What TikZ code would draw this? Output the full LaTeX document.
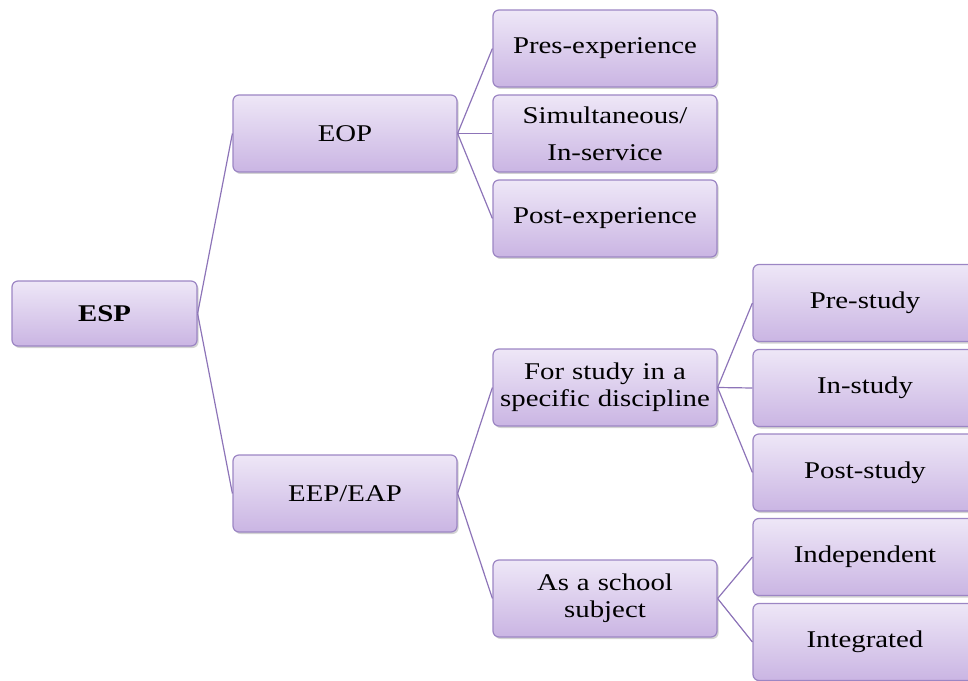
\documentclass[tikz,border=0pt]{standalone}
\usepackage{fontspec}
\setmainfont{Liberation Serif}[FakeStretch=1.2]
\usetikzlibrary{shadows}
\definecolor{boxtop}{HTML}{EEE7F7}
\definecolor{boxbot}{HTML}{CAB5E3}
\definecolor{boxline}{HTML}{9C86C4}
\definecolor{linkline}{HTML}{8D74B8}
\tikzset{
  box/.style={
      draw=boxline,
      line width=0.9pt,
      rounded corners=4.5pt,
      top color=boxtop,
      bottom color=boxbot,
      drop shadow={opacity=0.35, shadow xshift=1.2pt, shadow yshift=-1.5pt},
      minimum width=168pt,
      minimum height=57.75pt,
      text width=164pt,
      align=center,
      inner sep=0pt,
      font=\fontsize{18}{20}\selectfont
  },
  rootbox/.style={
      box,
      minimum width=138.75pt,
      minimum height=48.75pt,
      text width=130pt,
      font=\fontsize{18}{20}\selectfont\bfseries
  },
  link/.style={
      draw=linkline,
      line width=0.9pt
  }
}

\begin{document}
\begin{tikzpicture}[x=0.75pt,y=-0.75pt]
	\useasboundingbox (0,0) rectangle (968,681);
	\node[rootbox] (esp) at (104.5,313.5) {ESP};
	\node[box] (eop) at (345,133.5) {EOP};
	\node[box] (eep) at (345,493.5) {EEP/EAP};
	\node[box] (pres) at (605,48.5) {Pres-experience};
	\node[box,font=\fontsize{18}{28}\selectfont] (simul) at (605,133.5) {Simultaneous/\\In-service};
	\node[box] (postexp) at (605,218.5) {Post-experience};
	\node[box] (forstudy) at (605,387.5) {For study in a\\specific discipline};
	\node[box] (school) at (605,598.5) {As a school\\subject};
	\node[box] (pre) at (865,303) {Pre-study};
	\node[box] (in) at (865,388) {In-study};
	\node[box] (poststudy) at (865,472.5) {Post-study};
	\node[box] (indep) at (865,557) {Independent};
	\node[box] (integ) at (865,642) {Integrated};

	\draw[link] (esp.east) -- (eop.west);
	\draw[link] (esp.east) -- (eep.west);
	\draw[link] (eop.east) -- (pres.west);
	\draw[link] (eop.east) -- (simul.west);
	\draw[link] (eop.east) -- (postexp.west);
	\draw[link] (eep.east) -- (forstudy.west);
	\draw[link] (eep.east) -- (school.west);
	\draw[link] (forstudy.east) -- (pre.west);
	\draw[link] (forstudy.east) -- (in.west);
	\draw[link] (forstudy.east) -- (poststudy.west);
	\draw[link] (school.east) -- (indep.west);
	\draw[link] (school.east) -- (integ.west);
\end{tikzpicture}
\end{document}
